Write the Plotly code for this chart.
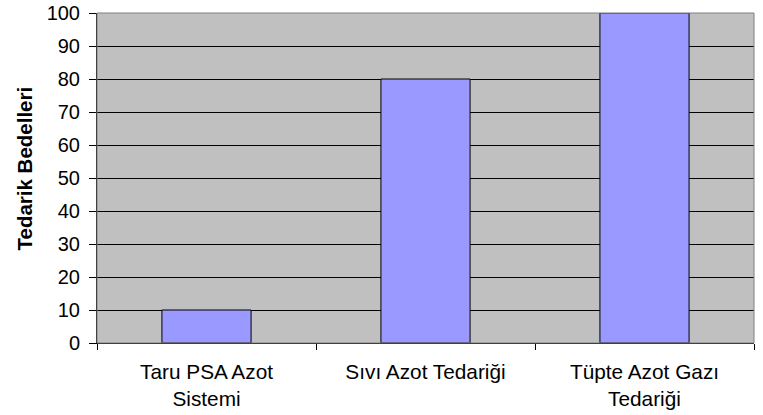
import plotly.graph_objects as go

categories = ["Taru PSA Azot<br>Sistemi", "Sıvı Azot Tedariği", "Tüpte Azot Gazı<br>Tedariği"]
values = [10, 80, 100]
y_ticks = [0, 10, 20, 30, 40, 50, 60, 70, 80, 90, 100]
y_title = "Tedarik Bedelleri"

FONT = "Liberation Sans, Arial, sans-serif"

fig = go.Figure()
fig.add_trace(go.Bar(
    x=categories, y=values,
    marker=dict(color="#9999FF", line=dict(color="black", width=1)),
    width=0.407,
))

fig.update_layout(
    width=763, height=415,
    margin=dict(l=97, r=9, t=13, b=72, autoexpand=False),
    paper_bgcolor="white",
    plot_bgcolor="#C0C0C0",
    font=dict(family=FONT, size=20, color="black"),
    showlegend=False,
    xaxis=dict(
        type="category",
        automargin=False,
        showgrid=False,
        showline=True, linecolor="black", linewidth=1,
        ticks="outside", ticklen=6, tickcolor="black",
        tickson="boundaries",
        tickfont=dict(size=20.8),
        ticklabelstandoff=10,
    ),
    yaxis=dict(
        range=[0, 100],
        automargin=False,
        tickvals=y_ticks,
        showgrid=True, gridcolor="black", gridwidth=1,
        showline=True, linecolor="black", linewidth=1,
        ticks="outside", ticklen=7, tickcolor="black",
        tickfont=dict(size=20),
        ticklabelstandoff=5,
        zeroline=False,
    ),
    annotations=[dict(
        text="<b>" + y_title + "</b>", textangle=-90,
        xref="paper", yref="paper", x=(23.5 - 97) / 657, y=(343 - 169) / 330,
        xanchor="center", yanchor="middle", showarrow=False,
        font=dict(size=20.5, family=FONT, color="black"),
    )],
    shapes=[dict(type="rect", xref="paper", yref="paper", x0=0, x1=1, y0=0, y1=1,
                 line=dict(color="#808080", width=1), layer="above")],
)

fig.write_html("out.html", config={"displayModeBar": False},
               post_script="document.body.style.margin='0';document.body.style.overflow='hidden';")
